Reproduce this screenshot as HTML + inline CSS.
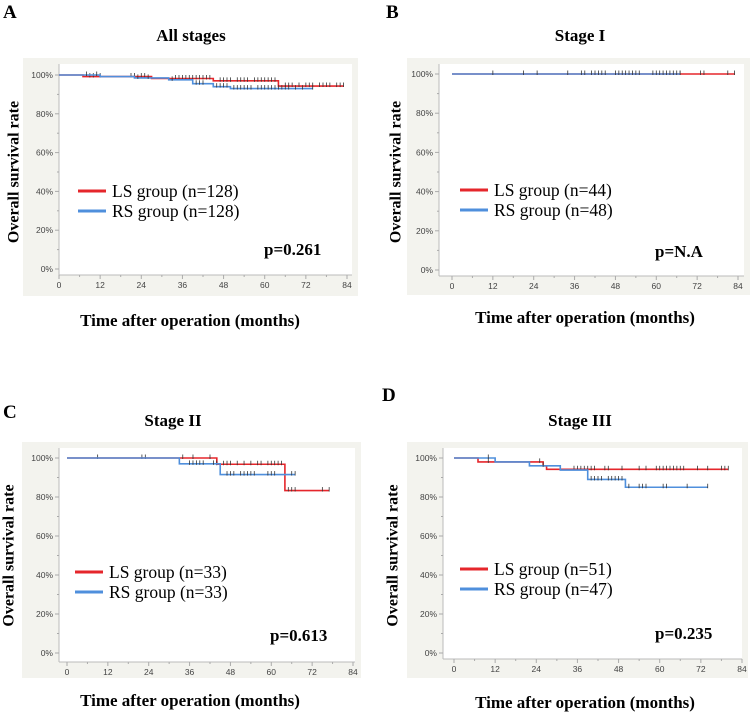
<!DOCTYPE html>
<html><head><meta charset="utf-8"><style>
html,body{margin:0;padding:0;background:#fff;width:751px;height:714px;overflow:hidden}
svg{display:block}
</style></head><body>
<svg id="fig" width="751" height="714" xmlns="http://www.w3.org/2000/svg"></svg>
<script>
// ---------- data (times in months, survival in %) ----------
const xTicks = [0,12,24,36,48,60,72,84];
const yTicks = [0,20,40,60,80,100];
const yTickLabels = ["0%","20%","40%","60%","80%","100%"];

// Panel A - All stages
const aLsTimes = [0,7,27,45,64];       const aLsSurv = [100,99.2,98.2,97,94.3]; const aLsEnd = 83;
const aRsTimes = [0,12,22,32,39,45,50]; const aRsSurv = [100,99.2,98.5,97.5,95.5,94,93]; const aRsEnd = 74;
const aLsCens = [9,10,12,21,22,24,25,34,35,36,37,38,39,40,41,42,43,44,47,48,49,50,52,53,54,55,57,58,59,60,61,62,63,66,67,68,70,72,73,74,76,77,78,79,81,82,83];
const aRsCens = [8,11,23,26,33,40,41,42,46,47,48,49,51,52,53,54,55,56,58,59,60,61,62,63,64,65,66,67,69,71,74];

// Panel B - Stage I
const bLsTimes = [0]; const bLsSurv = [100]; const bLsEnd = 83;
const bRsTimes = [0]; const bRsSurv = [100]; const bRsEnd = 67;
const bLsCens = [67,73,74,81,83];
const bRsCens = [12,21,25,34,38,39,41,42,43,44,45,48,49,50,51,52,53,54,55,59,60,61,62,63,64,65,66,67];

// Panel C - Stage II
const cLsTimes = [0,44,64]; const cLsSurv = [100,96.8,83.3]; const cLsEnd = 77;
const cRsTimes = [0,33,45]; const cRsSurv = [100,97,91.5]; const cRsEnd = 67;
const cLsCens = [9,22,23,34,37,42,44,46,47,48,50,52,54,56,57,59,60,61,62,63,65,66,67,75,77];
const cRsCens = [36,37,38,39,40,43,47,48,49,51,52,53,54,55,59,60,61,66,67];

// Panel D - Stage III
const dLsTimes = [0,7,26,27]; const dLsSurv = [100,98,96,94.2]; const dLsEnd = 80;
const dRsTimes = [0,12,22,31,39,50]; const dRsSurv = [100,98,96,93.8,89,85]; const dRsEnd = 74;
const dLsCens = [10,25,35,36,37,38,39,40,41,44,45,49,54,56,59,60,61,62,63,64,65,66,67,71,74,78,79,80];
const dRsCens = [10,26,40,41,42,43,45,46,47,48,49,51,54,55,56,61,62,68,74];

const panels = [
 {id:"a",letter:"A",title:"All stages",lsN:"LS group (n=128)",rsN:"RS group (n=128)",p:"p=0.261",
  ls:[aLsTimes,aLsSurv,aLsEnd,aLsCens],rs:[aRsTimes,aRsSurv,aRsEnd,aRsCens],
  g:{fx:23,fy:58,fw:335,fh:238,ax:59,x0:59,x84:347,y100:75,y0:269,axY:275,lx:3,ly:18,tx:191,ty:41,xtY:326,xtX:190,ylX:15,legX:78,legY:191,pX:264,pY:255}},
 {id:"b",letter:"B",title:"Stage I",lsN:"LS group (n=44)",rsN:"RS group (n=48)",p:"p=N.A",
  ls:[bLsTimes,bLsSurv,bLsEnd,bLsCens],rs:[bRsTimes,bRsSurv,bRsEnd,bRsCens],
  g:{fx:407,fy:58,fw:343,fh:237,ax:439,x0:452,x84:738,y100:74,y0:270,axY:276,lx:386,ly:18,tx:580,ty:41,xtY:323,xtX:585,ylX:397,legX:460,legY:190,pX:655,pY:257}},
 {id:"c",letter:"C",title:"Stage II",lsN:"LS group (n=33)",rsN:"RS group (n=33)",p:"p=0.613",
  ls:[cLsTimes,cLsSurv,cLsEnd,cLsCens],rs:[cRsTimes,cRsSurv,cRsEnd,cRsCens],
  g:{fx:22,fy:442,fw:339,fh:236,ax:59,x0:67,x84:353,y100:458,y0:653,axY:662,lx:3,ly:418,tx:173,ty:426,xtY:706,xtX:190,ylX:10,legX:75,legY:572,pX:270,pY:641}},
 {id:"d",letter:"D",title:"Stage III",lsN:"LS group (n=51)",rsN:"RS group (n=47)",p:"p=0.235",
  ls:[dLsTimes,dLsSurv,dLsEnd,dLsCens],rs:[dRsTimes,dRsSurv,dRsEnd,dRsCens],
  g:{fx:407,fy:442,fw:341,fh:236,ax:443,x0:454,x84:742,y100:458,y0:653,axY:659,lx:382,ly:401,tx:580,ty:426,xtY:708,xtX:585,ylX:394,legX:460,legY:569,pX:655,pY:639}}
];

const NS="http://www.w3.org/2000/svg";
const svg=document.getElementById("fig");
function mk(tag,attrs,parent,text){const e=document.createElementNS(NS,tag);for(const k in attrs)e.setAttribute(k,attrs[k]);if(text!==undefined)e.textContent=text;(parent||svg).appendChild(e);return e;}
const RED="#e5262b", BLUE="#4f8fdc";

panels.forEach(P=>{
  const g=P.g;
  const xs=t=>g.x0+(g.x84-g.x0)*t/84;
  const ys=v=>g.y0-(g.y0-g.y100)*v/100;
  const grp=mk("g",{});
  
  
  const let_=mk("text",{x:g.lx,y:g.ly,"font-family":"Liberation Serif, serif","font-weight":"bold","font-size":"19"},grp,P.letter);
  
  
  const tt=mk("text",{x:g.tx,y:g.ty,"text-anchor":"middle","font-family":"Liberation Serif, serif","font-weight":"bold","font-size":"17"},grp,P.title);
  
  
  const fr=mk("rect",{x:g.fx,y:g.fy,width:g.fw,height:g.fh,fill:"#f3f3ee"},grp);
  
  
  const pa=mk("rect",{x:g.ax,y:g.fy+6,width:g.fx+g.fw-6-g.ax,height:g.axY-g.fy-6,fill:"#ffffff"},grp);
  
  
  const yl=mk("line",{x1:g.ax,y1:g.fy+6,x2:g.ax,y2:g.axY,stroke:"#bbb","stroke-width":1},grp);
  
  
  const xl=mk("line",{x1:g.ax,y1:g.axY,x2:g.fx+g.fw-6,y2:g.axY,stroke:"#bbb","stroke-width":1},grp);
  
  
  for(let v=0;v<=100;v+=10){mk("line",{x1:g.ax-(v%20===0?4:2),y1:ys(v),x2:g.ax,y2:ys(v),stroke:"#aaa"},grp);}
  yTicks.forEach((v,i)=>{
    const t=mk("text",{x:g.ax-6,y:ys(v)+3,"text-anchor":"end","font-family":"Liberation Sans, sans-serif","font-size":"8.5",fill:"#444"},grp,yTickLabels[i]);
    
    
  });
  for(let m=0;m<=84;m+=6){mk("line",{x1:xs(m),y1:g.axY,x2:xs(m),y2:g.axY+(m%12===0?4:2),stroke:"#aaa"},grp);}
  xTicks.forEach(v=>{
    const t=mk("text",{x:xs(v),y:g.axY+13,"text-anchor":"middle","font-family":"Liberation Sans, sans-serif","font-size":"8.5",fill:"#444"},grp,String(v));
    
    
  });
  const xt=mk("text",{x:g.xtX,y:g.xtY,"text-anchor":"middle","font-family":"Liberation Serif, serif","font-weight":"bold","font-size":"17"},grp,"Time after operation (months)");
  
  
  const ycy=(g.y0+g.y100)/2;
  const yt=mk("text",{x:g.ylX,y:ycy,"text-anchor":"middle","font-family":"Liberation Serif, serif","font-weight":"bold","font-size":"16",transform:`rotate(-90 ${g.ylX} ${ycy})`,"dominant-baseline":"middle"},grp,"Overall survival rate");
  
  
  function drawCurve(series,color,name){
    const [T,S,end,C]=series;
    let d=`M${xs(T[0])},${ys(S[0])}`;
    for(let i=1;i<T.length;i++){d+=` H${xs(T[i])} V${ys(S[i])}`;}
    d+=` H${xs(end)}`;
    const p=mk("path",{d:d,fill:"none",stroke:color,"stroke-width":1.6},grp);
    
    
    C.forEach(c=>{
      let s=S[0];for(let i=0;i<T.length;i++){if(T[i]<=c)s=S[i];}
      const m=mk("line",{x1:xs(c),y1:ys(s)-3.5,x2:xs(c),y2:ys(s)+1,stroke:"#333","stroke-width":0.8},grp);
      
      
    });
  }
  drawCurve(P.ls,RED,"ls");
  drawCurve(P.rs,BLUE,"rs");
  const l1=mk("line",{x1:g.legX,y1:g.legY,x2:g.legX+28,y2:g.legY,stroke:RED,"stroke-width":3},grp);
  
  
  const t1=mk("text",{x:g.legX+34,y:g.legY+6,"font-family":"Liberation Serif, serif","font-size":"17.5"},grp,P.lsN);
  
  
  const l2=mk("line",{x1:g.legX,y1:g.legY+20,x2:g.legX+28,y2:g.legY+20,stroke:BLUE,"stroke-width":3},grp);
  
  
  const t2=mk("text",{x:g.legX+34,y:g.legY+26,"font-family":"Liberation Serif, serif","font-size":"17.5"},grp,P.rsN);
  
  
  const pv=mk("text",{x:g.pX,y:g.pY,"font-family":"Liberation Serif, serif","font-weight":"bold","font-size":"17"},grp,P.p);
  
  
});
</script>
</body></html>
